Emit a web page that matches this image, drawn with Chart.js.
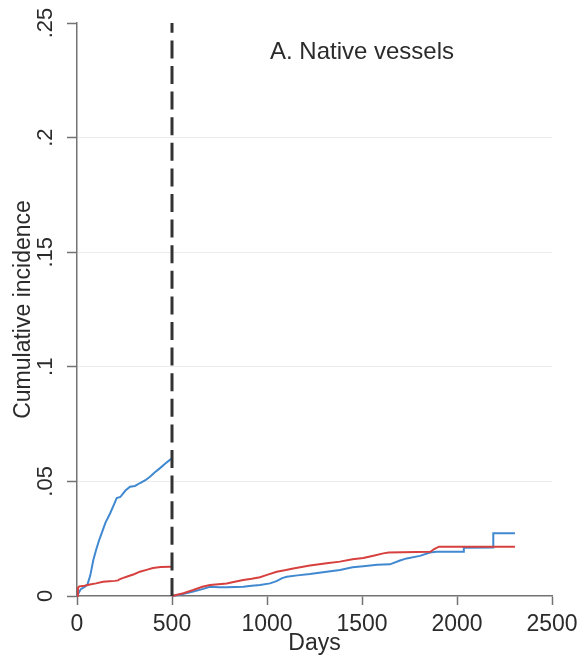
<!DOCTYPE html>
<html>
<head>
<meta charset="utf-8">
<script src="https://cdn.jsdelivr.net/npm/chart.js@4/dist/chart.umd.min.js"></script>
<style>
  html, body { margin: 0; padding: 0; background: #ffffff; }
  #wrap { width: 584px; height: 662px; }
</style>
</head>
<body>
<div id="wrap"><canvas id="c" width="584" height="662"></canvas></div>
<script>
// Labels
const panelTitle = 'A. Native vessels';
const xTitle = 'Days';
const yTitle = 'Cumulative incidence';

// Axis ticks
const xTicks = [0, 500, 1000, 1500, 2000, 2500];
const yTicks = [0, 0.05, 0.1, 0.15, 0.2, 0.25];

// Landmark day (analysis restarts here)
const landmarkDay = 500;

// Blue group, days 0-500
const blueDaysEarly = [0, 20, 40, 55, 70, 86, 100, 115, 130, 150, 174, 195, 209, 228, 240, 255, 279, 305, 332, 360, 384, 410, 437, 465, 489, 500];
const blueIncEarly  = [0, 0.003, 0.004, 0.005, 0.009, 0.0157, 0.020, 0.024, 0.0274, 0.032, 0.036, 0.040, 0.0427, 0.0432, 0.0445, 0.046, 0.0477, 0.048, 0.0493, 0.0505, 0.052, 0.054, 0.0558, 0.0578, 0.0594, 0.0600];

// Red group, days 0-500
const redDaysEarly = [0, 5, 12, 40, 68, 100, 137, 170, 200, 216, 224, 240, 261, 300, 331, 370, 400, 440, 489, 500];
const redIncEarly  = [0, 0.0035, 0.0042, 0.0045, 0.0050, 0.0055, 0.0062, 0.0064, 0.0066, 0.0068, 0.0073, 0.0078, 0.0084, 0.0095, 0.0106, 0.0115, 0.0122, 0.0126, 0.0128, 0.0128];

// Blue group, days 500 onward
const blueDaysLate = [500, 540, 612, 660, 700, 750, 788, 875, 920, 963, 1016, 1050, 1080, 1104, 1160, 1226, 1314, 1384, 1450, 1507, 1580, 1647, 1700, 1735, 1805, 1858, 1893, 2033, 2036, 2191, 2191, 2305];
const blueIncLate  = [0, 0.0005, 0.0019, 0.0030, 0.0040, 0.0038, 0.0038, 0.0040, 0.0045, 0.0048, 0.0055, 0.0065, 0.0078, 0.0084, 0.0090, 0.0096, 0.0106, 0.0113, 0.0125, 0.0130, 0.0136, 0.0138, 0.0155, 0.0164, 0.0175, 0.0190, 0.0193, 0.0193, 0.0210, 0.0212, 0.0274, 0.0274];

// Red group, days 500 onward
const redDaysLate = [500, 560, 612, 660, 700, 788, 830, 875, 920, 963, 1000, 1051, 1100, 1138, 1226, 1314, 1384, 1450, 1507, 1560, 1612, 1640, 1860, 1880, 1905, 2305];
const redIncLate  = [0, 0.0012, 0.0026, 0.0040, 0.0048, 0.0055, 0.0062, 0.0070, 0.0075, 0.0082, 0.0092, 0.0106, 0.0113, 0.0120, 0.0133, 0.0143, 0.0150, 0.0160, 0.0166, 0.0176, 0.0186, 0.0190, 0.0193, 0.0205, 0.0215, 0.0215];

const blueColor = '#4089d0';
const redColor = '#d6403f';
const textColor = '#2b2b2b';
const axisColor = '#737373';
const gridColor = '#ececec';
const fontFamily = '"Liberation Sans", Arial, Helvetica, sans-serif';

const toPoints = (xs, ys) => xs.map((x, i) => ({ x: x, y: ys[i] }));

const curve = (xs, ys, color, order) => ({
  data: toPoints(xs, ys),
  borderColor: color,
  borderWidth: 2,
  pointRadius: 0,
  tension: 0,
  fill: false,
  clip: false,
  order: order
});

// Panel label drawn inside the plot area
const panelLabel = {
  id: 'panelLabel',
  afterDatasetsDraw(chart) {
    const { ctx, scales } = chart;
    ctx.save();
    ctx.font = '24px ' + fontFamily;
    ctx.fillStyle = textColor;
    ctx.textAlign = 'center';
    ctx.textBaseline = 'middle';
    ctx.fillText(panelTitle, scales.x.getPixelForValue(1500), scales.y.getPixelForValue(0.237));
    ctx.restore();
  }
};

const fixedTicks = (values) => (scale) => { scale.ticks = values.map(v => ({ value: v })); };

new Chart(document.getElementById('c'), {
  type: 'line',
  data: {
    datasets: [
      {
        data: [{ x: landmarkDay, y: 0 }, { x: landmarkDay, y: 0.25 }],
        borderColor: '#333333',
        borderWidth: 3,
        borderDash: [18, 7.6],
        borderCapStyle: 'butt',
        pointRadius: 0,
        fill: false,
        clip: false,
        order: 0
      },
      curve(redDaysEarly, redIncEarly, redColor, 1),
      curve(redDaysLate, redIncLate, redColor, 1),
      curve(blueDaysEarly, blueIncEarly, blueColor, 2),
      curve(blueDaysLate, blueIncLate, blueColor, 2)
    ]
  },
  options: {
    responsive: false,
    animation: false,
    devicePixelRatio: 1,
    layout: { padding: { top: 23, right: 32, left: 0, bottom: 0 } },
    plugins: {
      legend: { display: false },
      tooltip: { enabled: false },
      title: { display: false }
    },
    scales: {
      x: {
        type: 'linear',
        min: 0,
        max: 2500,
        afterBuildTicks: fixedTicks(xTicks),
        afterFit(scale) {
          scale.height = 66;
          scale.paddingLeft = 0; scale.paddingRight = 0;
        },
        border: { display: true, color: axisColor, width: 1.5 },
        grid: { drawOnChartArea: false, drawTicks: true, tickLength: 9, tickColor: axisColor, tickWidth: 1.5 },
        ticks: {
          padding: 6,
          color: textColor,
          font: { family: fontFamily, size: 23 },
          maxRotation: 0,
          minRotation: 0,
          callback: (v) => String(v)
        },
        title: {
          display: true,
          text: xTitle,
          color: textColor,
          font: { family: fontFamily, size: 23 },
          padding: { top: 0, bottom: 5 }
        }
      },
      y: {
        type: 'linear',
        min: 0,
        max: 0.25,
        afterBuildTicks: fixedTicks(yTicks),
        afterFit(scale) {
          scale.width = 77;
          scale.paddingTop = 0; scale.paddingBottom = 0;
        },
        border: { display: true, color: axisColor, width: 1.5 },
        grid: {
          drawOnChartArea: true,
          drawTicks: true,
          tickLength: 10,
          tickColor: axisColor,
          tickWidth: 1.5,
          color: (ctx) => (ctx.tick && ctx.tick.value > 0 && ctx.tick.value < 0.25) ? gridColor : 'rgba(0,0,0,0)',
          lineWidth: 1
        },
        ticks: {
          padding: 6,
          color: textColor,
          crossAlign: 'center',
          minRotation: 90,
          maxRotation: 90,
          font: { family: fontFamily, size: 22 },
          callback: (v) => {
            const s = String(+Number(v).toFixed(2));
            return s.replace(/^0\./, '.');
          }
        },
        title: {
          display: true,
          text: yTitle,
          color: textColor,
          font: { family: fontFamily, size: 23 },
          padding: { top: 10, bottom: 0 }
        }
      }
    }
  },
  plugins: [panelLabel]
});
</script>
</body>
</html>
